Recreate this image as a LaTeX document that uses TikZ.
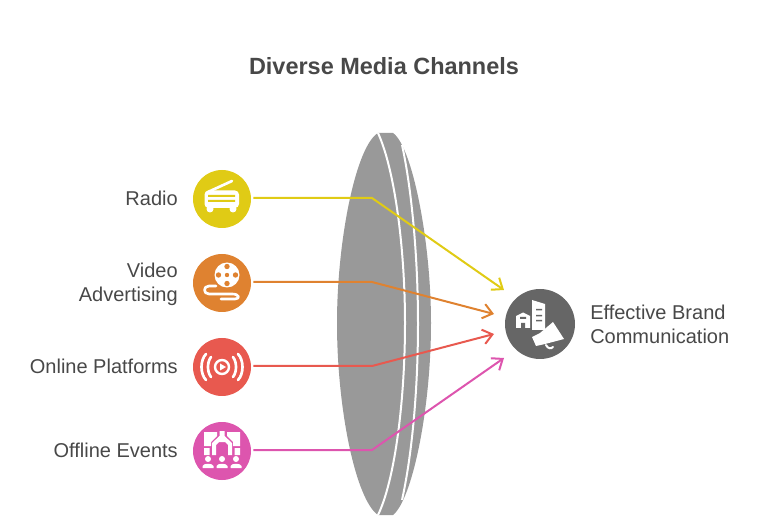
\documentclass[tikz,border=0pt]{standalone}
\usepackage{fontspec}
\setmainfont{Liberation Sans}
\usetikzlibrary{arrows.meta}
\usetikzlibrary{positioning}
\definecolor{lensgray}{HTML}{999999}
\definecolor{textgray}{HTML}{484848}
\definecolor{radiocol}{HTML}{E0CB15}
\definecolor{videocol}{HTML}{DF8230}
\definecolor{onlinecol}{HTML}{E8594F}
\definecolor{offlinecol}{HTML}{DD55AE}
\definecolor{brandcol}{HTML}{666666}
\tikzset{
    channel/.style={circle,fill=#1,minimum size=43.5pt,inner sep=0pt},
    label/.style={text=textgray,font=\fontsize{15}{18}\selectfont,align=right,anchor=east,inner sep=0pt},
    link/.style={draw=#1,line width=1.5pt,-{Straight Barb[length=7pt,width=11pt,line width=1.5pt]}},
    icon/.style={white,line width=2pt,line cap=round,line join=round},
}
\begin{document}
\begin{tikzpicture}[x=0.75pt,y=-0.75pt]
    \useasboundingbox (0,0) rectangle (768,520);

    % title
    \node (title) [text=textgray,font=\bfseries\fontsize{17.6}{21}\selectfont] at (384,66) {Diverse Media Channels};

    % lens
    \fill [lensgray] (378,133) .. controls (356,146) and (337,240) .. (337,323)
        .. controls (337,410) and (356,500) .. (378,515) -- (393,515)
        .. controls (412,500) and (431,410) .. (431,323)
        .. controls (431,240) and (412,146) .. (393,133) -- cycle;
    \draw [white,line width=1.5pt] (378,133) .. controls (395,170) and (405,250) .. (405,323)
        .. controls (405,400) and (395,480) .. (378,515);
    \draw [white,line width=1.5pt] (402,145) .. controls (412,190) and (418,260) .. (418,323)
        .. controls (418,390) and (412,455) .. (402,500);

    % channels
    \node (radio) [channel=radiocol] at (222,199) {};
    \node (video) [channel=videocol] at (222,283) {};
    \node (online) [channel=onlinecol] at (222,367) {};
    \node (offline) [channel=offlinecol] at (222,451) {};
    \node (brand) [circle,fill=brandcol,minimum size=52.5pt,inner sep=0pt] at (540,324) {};

    % labels
    \node (radiolabel) [label] at (178,198) {Radio};
    \node (videolabel) [label] at (178,284) {Video\\Advertising};
    \node (onlinelabel) [label] at (178,366) {Online Platforms};
    \node (offlinelabel) [label] at (178,450) {Offline Events};
    \node (brandlabel) [label,anchor=west,align=left] at (590,324) {Effective Brand\\Communication};

    % connectors
    \coordinate (radiobend) at (372,198);
    \coordinate (videobend) at (372,282);
    \coordinate (onlinebend) at (372,366);
    \coordinate (offlinebend) at (372,450);
    \coordinate (radioend) at (504,290);
    \coordinate (videoend) at (494,314);
    \coordinate (onlineend) at (494,334);
    \coordinate (offlineend) at (504,358);
    \draw [link=radiocol] (radio.east) ++(2,-1) -- (radiobend) -- (radioend);
    \draw [link=videocol] (video.east) ++(2,-1) -- (videobend) -- (videoend);
    \draw [link=onlinecol] (online.east) ++(2,-1) -- (onlinebend) -- (onlineend);
    \draw [link=offlinecol] (offline.east) ++(2,-1) -- (offlinebend) -- (offlineend);

    % radio icon
    \draw [icon] (208,192) -- (232,181);
    \fill [white,rounded corners=3pt] (204.5,190.5) rectangle (239,208);
    \fill [radiocol] (208,195) rectangle (235,197) (208,200) rectangle (235,202);
    \fill [white] (210,209) circle (3.5) (233,209) circle (3.5);

    % video icon
    \fill [white] (227,275) circle (12.5);
    \fill [videocol] (227,266.5) circle (2.7) (227,283.5) circle (2.7)
        (218.5,275) circle (2.7) (235.5,275) circle (2.7) (227,275) circle (2.2);
    \draw [icon] (216,286) -- (209,286) .. controls (203,286) and (203,294) .. (209,294)
        -- (232,294) .. controls (240,294) and (240,299) .. (235,299) -- (221,299);

    % online icon
    \draw [white,line width=1.8pt] (222,367) circle (7);
    \fill [white] (220,363.5) -- (226,367) -- (220,370.5) -- cycle;
    \draw [icon] (211,357) .. controls (207,362) and (207,372) .. (211,377);
    \draw [icon] (233,357) .. controls (237,362) and (237,372) .. (233,377);
    \draw [icon] (206,354) .. controls (200,360) and (200,374) .. (206,380);
    \draw [icon] (238,354) .. controls (244,360) and (244,374) .. (238,380);

    % offline icon
    \fill [white] (204,432) -- (217,432) -- (217,436) -- (211,442) -- (211,446) -- (204,446) -- cycle;
    \fill [white] (240,432) -- (227,432) -- (227,436) -- (233,442) -- (233,446) -- (240,446) -- cycle;
    \fill [white] (219.5,431) -- (224.5,431) -- (224.5,436) -- (232,443) -- (232,455) -- (228,455)
        -- (228,445) -- (225,442) -- (219,442) -- (216,445) -- (216,455) -- (212,455) -- (212,443)
        -- (219.5,436) -- cycle;
    \fill [white] (204,448) rectangle (209.5,455) (234.5,448) rectangle (240,455);
    \foreach \x in {208,222,236}{
        \fill [white] (\x,459) circle (3);
        \fill [white] (\x-5.5,468) -- (\x-5.5,466) .. controls (\x-5,463) and (\x+5,463) .. (\x+5.5,466) -- (\x+5.5,468) -- cycle;
    }

    % brand icon
    \fill [white] (516,328) -- (516,316) -- (523,312.5) -- (530,316) -- (530,328) -- cycle;
    \fill [brandcol] (521,323) rectangle (525,328) (520,317) rectangle (526,319);
    \fill [white] (532,300) -- (545,304) -- (545,330) -- (532,330) -- cycle;
    \fill [brandcol] (536,309) rectangle (542,310.5) (536,315) rectangle (542,316.5) (536,320) rectangle (542,321.5);
    \fill [white] (553,322) -- (564,339) -- (545,344) -- (536,346) -- (532,337) -- (540,333) -- cycle;
    \draw [white,line width=1.5pt,line cap=round] (546,345) .. controls (548,349) and (551,349) .. (553,347);
\end{tikzpicture}
\end{document}
